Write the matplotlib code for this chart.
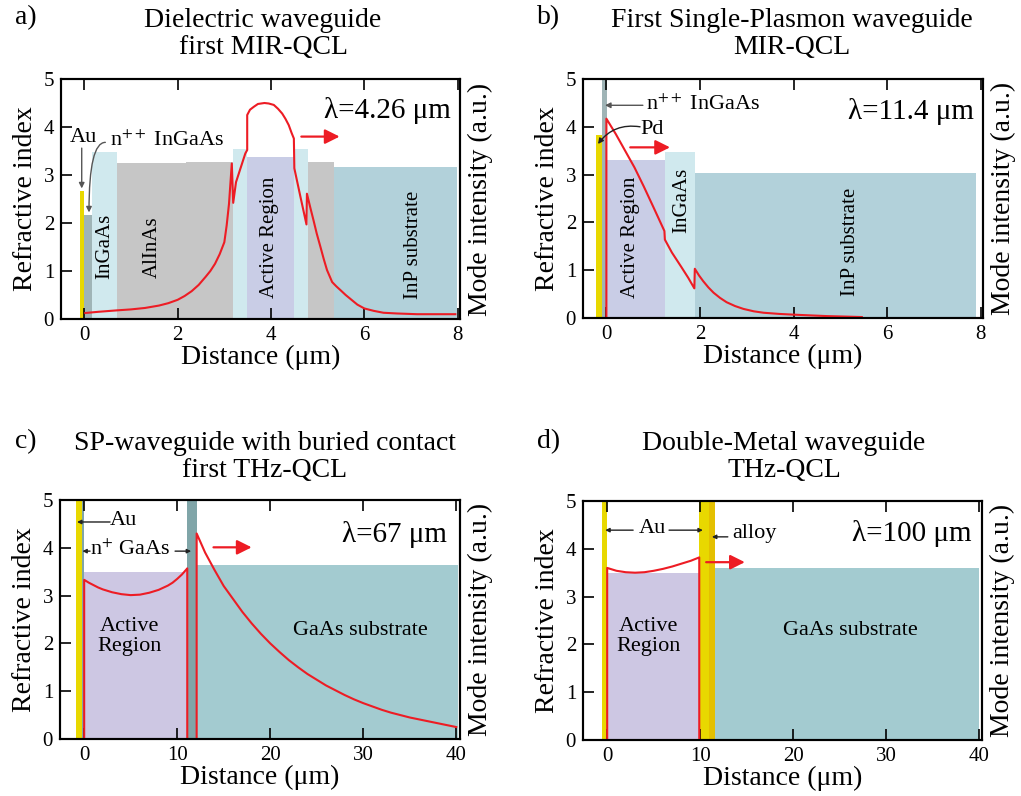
import numpy as np
import matplotlib
matplotlib.use("Agg")
import matplotlib.pyplot as plt

plt.rcParams['font.family'] = ['Liberation Serif', 'DejaVu Serif']
plt.rcParams['mathtext.fontset'] = 'stix'
plt.rcParams['axes.linewidth'] = 1.5

# colours of the layers
GOLD = '#e8d800'
ALLOY = '#e4c000'
NDOPED = '#9fb4b6'
NDOPED_DARK = '#80a5a8'
CYAN = '#d0e9ee'
GRAY = '#c6c6c6'
LAV_MIR = '#c9cde6'
LAV_THZ = '#cdc7e3'
INP = '#b2d1da'
GAAS = '#a3cbd0'
RED = '#ed1c24'

# ---- a) dielectric waveguide, first MIR-QCL ----
a_left = [-0.10, 0.00, 0.17, 0.70, 2.18, 3.19, 3.49, 4.50, 4.80, 5.34]
a_right = [0.00, 0.17, 0.70, 2.18, 3.19, 3.49, 4.50, 4.80, 5.34, 7.99]
a_index = [2.67, 2.16, 3.48, 3.25, 3.27, 3.54, 3.37, 3.54, 3.27, 3.16]
a_colors = [GOLD, NDOPED, CYAN, GRAY, GRAY, CYAN, LAV_MIR, CYAN, GRAY, INP]
a_mode_x = [0.02, 0.3, 0.7, 1.0, 1.3, 1.6, 1.8, 2.0, 2.15, 2.3, 2.45, 2.6,
            2.7, 2.8, 2.9, 3.0, 3.05, 3.1, 3.16,
            3.19, 3.25, 3.35, 3.45, 3.49, 3.49, 3.55, 3.63, 3.72, 3.86, 3.95,
            4.06, 4.15, 4.24, 4.31, 4.38, 4.44, 4.49, 4.50, 4.63, 4.76, 4.77,
            4.84, 4.91, 4.98, 5.06, 5.13, 5.20, 5.31, 5.40, 5.49, 5.60, 5.70,
            5.85, 6.00, 6.20, 6.41, 6.70, 7.13, 7.50, 7.95]
a_mode_y = [0.125, 0.15, 0.18, 0.20, 0.23, 0.28, 0.33, 0.40, 0.48, 0.58, 0.71,
            0.88, 1.00, 1.15, 1.35, 1.60, 1.95, 2.40, 3.24,
            2.42, 2.85, 3.15, 3.45, 3.52, 4.25, 4.36, 4.42, 4.48, 4.50, 4.49,
            4.46, 4.38, 4.28, 4.17, 4.04, 3.88, 3.76, 3.14, 2.55, 1.97, 2.61,
            2.33, 2.06, 1.78, 1.50, 1.25, 1.02, 0.77, 0.68, 0.60, 0.50, 0.42,
            0.30, 0.22, 0.17, 0.13, 0.115, 0.10, 0.10, 0.10]

# ---- b) first single-plasmon waveguide, MIR-QCL ----
b_left = [-0.23, -0.10, 0.00, 1.25, 1.89]
b_right = [-0.10, 0.01, 1.25, 1.89, 7.89]
b_index = [3.82, 5.00, 3.31, 3.48, 3.03]
b_colors = [GOLD, NDOPED, LAV_MIR, CYAN, INP]
b_mode_x = [0.0, 0.0, 0.2, 0.4, 0.6, 0.8, 1.0, 1.24, 1.25, 1.4, 1.6, 1.75,
            1.88, 1.89, 1.98, 2.07, 2.18, 2.29, 2.43, 2.57, 2.75, 2.93, 3.15,
            3.36, 3.7, 4.0, 4.35, 4.71, 5.1, 5.46]
b_mode_y = [0.0, 4.17, 3.85, 3.50, 3.15, 2.75, 2.33, 1.82, 1.64, 1.37, 1.07,
            0.84, 0.62, 1.03, 0.89, 0.77, 0.64, 0.53, 0.42, 0.33, 0.25, 0.19,
            0.14, 0.11, 0.085, 0.07, 0.055, 0.04, 0.03, 0.02]

# ---- c) SP waveguide with buried contact, first THz-QCL ----
c_left = [-0.9, -0.2, 0.0, 11.08, 12.09]
c_right = [-0.2, 0.0, 11.08, 12.09, 40.2]
c_index = [5.0, 5.0, 3.50, 5.0, 3.63]
c_colors = [GOLD, NDOPED_DARK, LAV_THZ, NDOPED_DARK, GAAS]
c_core_x = [0, 0, 0.5, 1, 1.5, 2, 3, 4, 5, 6, 7, 8, 9, 9.5, 10, 10.5, 11,
            11.08, 11.08]
c_core_y = [0, 3.33, 3.27, 3.22, 3.17, 3.13, 3.07, 3.03, 3.01, 3.02, 3.06,
            3.12, 3.21, 3.27, 3.35, 3.44, 3.55, 3.57, 0]
c_sub_x = [12.09, 12.09, 12.5, 13, 13.5, 14, 15, 16, 17, 18, 19, 20, 21, 22,
           23, 24, 25, 26, 27, 28, 29, 30, 31, 32, 33, 34, 35, 36, 37, 38, 39,
           40]
c_sub_y = [0, 4.30, 4.12, 3.90, 3.72, 3.54, 3.20, 2.93, 2.66, 2.42, 2.20,
           2.00, 1.82, 1.65, 1.50, 1.36, 1.24, 1.12, 1.02, 0.92, 0.83, 0.75,
           0.68, 0.61, 0.55, 0.50, 0.45, 0.41, 0.37, 0.33, 0.29, 0.25]

# ---- d) double-metal waveguide, THz-QCL ----
d_left = [-0.6, 0.0, 9.9, 11.0, 11.64]
d_right = [0.0, 9.9, 11.0, 11.64, 40.0]
d_index = [5.0, 3.50, 5.0, 5.0, 3.60]
d_colors = [GOLD, LAV_THZ, GOLD, ALLOY, GAAS]
d_mode_x = [0, 0, 1, 2, 3, 4, 5, 6, 7, 8, 9, 9.9, 9.9]
d_mode_y = [0, 3.60, 3.54, 3.51, 3.50, 3.51, 3.54, 3.58, 3.63, 3.69, 3.75,
            3.82, 0]

W, H = 1021, 796
fig = plt.figure(figsize=(W / 100, H / 100), dpi=100)


def make_axes(x0, x1, y0, y1, xlim, xticks):
    ax = fig.add_axes([x0 / W, 1 - y1 / H, (x1 - x0) / W, (y1 - y0) / H])
    ax.set_xlim(*xlim)
    ax.set_ylim(0, 5)
    ax.set_xticks(xticks)
    ax.set_yticks([0, 1, 2, 3, 4, 5])
    ax.tick_params(direction='in', top=True, right=False, length=8, width=1.2,
                   labelsize=15, pad=5)
    ax.set_xlabel('Distance (μm)', fontsize=20, labelpad=0)
    ax.set_ylabel('Refractive index', fontsize=20, labelpad=4)
    ax2 = ax.twinx()
    ax2.set_yticks([])
    ax2.set_ylabel('Mode intensity (a.u.)', fontsize=20, labelpad=6)
    for sp in ax2.spines.values():
        sp.set_linewidth(1.5)
    return ax


def layers(ax, left, right, index, colors):
    widths = [r - l for l, r in zip(left, right)]
    ax.bar(left, index, width=widths, align='edge', color=colors,
           linewidth=0, zorder=1)


def arrow(ax, start, end, color='#555555', lw=1.0, style='-|>', scale=8,
          conn='arc3'):
    ax.annotate('', xy=end, xytext=start,
                arrowprops=dict(arrowstyle=style, color=color, lw=lw,
                                mutation_scale=scale, shrinkA=0, shrinkB=0,
                                connectionstyle=conn))


def titles(xl, xc, yl, yc, letter, text):
    fig.text(xl / W, 1 - yl / H, letter, fontsize=20, ha='left', va='center')
    fig.text(xc / W, 1 - yc / H, text, fontsize=20, ha='center', va='center',
             linespacing=1.15)


# a)
ax = make_axes(61, 460, 79, 319, (-0.5, 8.05), [0, 2, 4, 6, 8])
layers(ax, a_left, a_right, a_index, a_colors)
ax.plot(a_mode_x, a_mode_y, color=RED, lw=1.5, zorder=3)
arrow(ax, (4.65, 3.8), (5.47, 3.8), color=RED, lw=1.6, scale=22)
ax.text(7.85, 4.35, 'λ=4.26 μm', fontsize=21, ha='right', va='center')
ax.text(-0.01, 3.78, 'Au', fontsize=16, ha='center', va='center')
ax.text(0.55, 3.72, 'n$^{++}$ InGaAs', fontsize=16, ha='left', va='center')
arrow(ax, (-0.056, 3.56), (-0.056, 2.72))
arrow(ax, (0.45, 3.68), (0.10, 2.22), conn='angle3,angleA=0,angleB=90')
ax.text(0.43, 1.52, 'InGaAs', fontsize=15, rotation=90, ha='center', va='center')
ax.text(1.45, 1.50, 'AlInAs', fontsize=15, rotation=90, ha='center', va='center')
ax.text(3.96, 1.70, 'Active Region', fontsize=15, rotation=90, ha='center',
        va='center')
ax.text(7.06, 1.54, 'InP substrate', fontsize=15, rotation=90, ha='center',
        va='center')
titles(15, 263, 18, 34, 'a)', 'Dielectric waveguide\nfirst MIR-QCL')

# b)
ax = make_axes(583, 983, 79, 318, (-0.5, 8.05), [0, 2, 4, 6, 8])
layers(ax, b_left, b_right, b_index, b_colors)
ax.plot(b_mode_x, b_mode_y, color=RED, lw=1.5, zorder=3)
arrow(ax, (0.51, 3.57), (1.36, 3.57), color=RED, lw=1.6, scale=22)
ax.text(7.85, 4.31, 'λ=11.4 μm', fontsize=21, ha='right', va='center')
ax.text(0.85, 4.46, 'n$^{++}$ InGaAs', fontsize=16, ha='left', va='center')
arrow(ax, (0.78, 4.45), (-0.03, 4.45))
ax.text(0.72, 3.95, 'Pd', fontsize=16, ha='left', va='center')
arrow(ax, (0.72, 4.0), (-0.18, 3.64), color='#222222', conn='arc3,rad=0.3')
ax.text(0.51, 1.68, 'Active Region', fontsize=15, rotation=90, ha='center',
        va='center')
ax.text(1.61, 2.46, 'InGaAs', fontsize=15, rotation=90, ha='center', va='center')
ax.text(5.21, 1.60, 'InP substrate', fontsize=15, rotation=90, ha='center',
        va='center')
titles(537, 792, 18, 34, 'b)', 'First Single-Plasmon waveguide\nMIR-QCL')

# c)
ax = make_axes(60, 460, 500, 739, (-2.6, 40.4), [0, 10, 20, 30, 40])
layers(ax, c_left, c_right, c_index, c_colors)
ax.plot(c_core_x, c_core_y, color=RED, lw=1.5, zorder=3)
ax.plot(c_sub_x, c_sub_y, color=RED, lw=1.5, zorder=3)
arrow(ax, (13.9, 4.01), (18.0, 4.01), color=RED, lw=1.6, scale=22)
ax.text(39.0, 4.27, 'λ=67 μm', fontsize=21, ha='right', va='center')
ax.text(2.8, 4.57, 'Au', fontsize=16, ha='left', va='center')
arrow(ax, (2.78, 4.54), (-0.77, 4.54), color='#222222', scale=6)
ax.text(4.93, 3.96, 'n$^{+}$ GaAs', fontsize=16, ha='center', va='center')
arrow(ax, (0.63, 3.93), (-0.2, 3.93), color='#222222', scale=6)
arrow(ax, (9.77, 3.93), (11.5, 3.93), color='#222222', scale=6)
ax.text(4.84, 2.14, 'Active\nRegion', fontsize=16, ha='center', va='center',
        linespacing=1.1)
ax.text(29.7, 2.28, 'GaAs substrate', fontsize=16, ha='center', va='center')
titles(15, 265, 442, 457, 'c)', 'SP-waveguide with buried contact\nfirst THz-QCL')

# d)
ax = make_axes(583, 982, 501, 740, (-2.6, 40.3), [0, 10, 20, 30, 40])
layers(ax, d_left, d_right, d_index, d_colors)
ax.plot(d_mode_x, d_mode_y, color=RED, lw=1.5, zorder=3)
arrow(ax, (10.64, 3.72), (14.8, 3.72), color=RED, lw=1.6, scale=22)
ax.text(39.2, 4.33, 'λ=100 μm', fontsize=21, ha='right', va='center')
ax.text(4.83, 4.42, 'Au', fontsize=16, ha='center', va='center')
arrow(ax, (2.79, 4.39), (-0.21, 4.39), color='#222222', scale=6)
arrow(ax, (6.65, 4.39), (10.29, 4.39), color='#222222', scale=6)
ax.text(13.4, 4.33, 'alloy', fontsize=16, ha='left', va='center')
arrow(ax, (12.97, 4.25), (11.26, 4.25), color='#222222', scale=6)
ax.text(4.46, 2.16, 'Active\nRegion', fontsize=16, ha='center', va='center',
        linespacing=1.1)
ax.text(26.1, 2.30, 'GaAs substrate', fontsize=16, ha='center', va='center')
titles(537, 784, 442, 457, 'd)', 'Double-Metal waveguide\nTHz-QCL')

fig.savefig('out.png', dpi=100)
